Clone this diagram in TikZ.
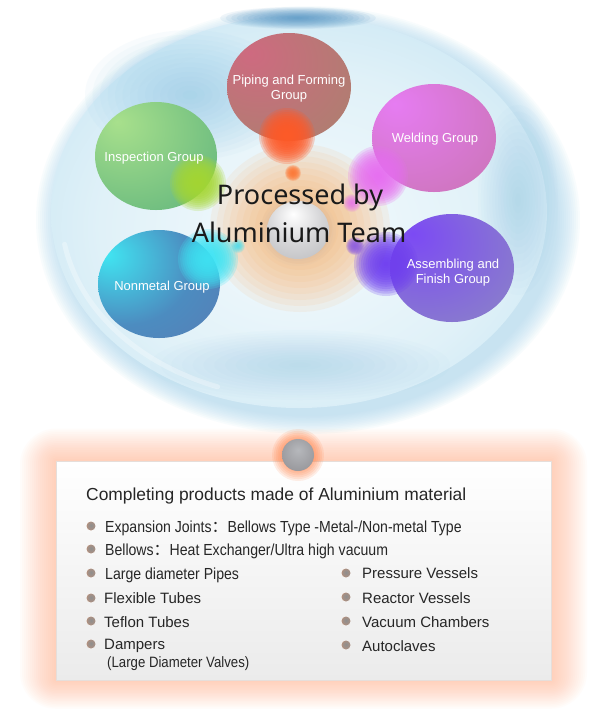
\documentclass[tikz,border=0pt]{standalone}
\usepackage{fontspec}
\setmainfont{Liberation Sans}
\newfontfamily\titlefont{Noto Sans}
\newfontfamily\narrowfont[FakeStretch=0.88]{Liberation Sans}
\newfontfamily\cjk{Noto Sans CJK SC}

\definecolor{ellA}{HTML}{F4FAFD}
\definecolor{ellB}{HTML}{E0F1F8}
\definecolor{ellC}{HTML}{C2E3F2}
\definecolor{ellD}{HTML}{A6D6EC}
\definecolor{ellE}{HTML}{B8DFF1}
\definecolor{ellglow}{HTML}{A8D6EE}
\definecolor{patch}{HTML}{86C4E4}
\definecolor{topshadow}{HTML}{3F86BC}
\definecolor{orglow}{HTML}{FBB470}
\definecolor{pipA}{HTML}{CE6A80}
\definecolor{pipB}{HTML}{B27C72}
\definecolor{pipC}{HTML}{9C8C56}
\definecolor{welA}{HTML}{E67CF2}
\definecolor{welB}{HTML}{D076C2}
\definecolor{welC}{HTML}{B86A88}
\definecolor{insA}{HTML}{A8E08C}
\definecolor{insB}{HTML}{70BE80}
\definecolor{insC}{HTML}{4AA65E}
\definecolor{nonA}{HTML}{40E6F2}
\definecolor{nonB}{HTML}{4C8CC0}
\definecolor{nonC}{HTML}{6A66A4}
\definecolor{assA}{HTML}{7C4AF4}
\definecolor{assB}{HTML}{8878D0}
\definecolor{assC}{HTML}{7A94C2}
\definecolor{bOrange}{HTML}{FF5A28}
\definecolor{bOrange2}{HTML}{FF7A38}
\definecolor{bGreen}{HTML}{A6D832}
\definecolor{bPink}{HTML}{E66EF0}
\definecolor{bCyan}{HTML}{3EE4F4}
\definecolor{bPurple}{HTML}{7040F0}
\definecolor{bPurple2}{HTML}{9060E0}
\definecolor{silA}{HTML}{FFFFFF}
\definecolor{silB}{HTML}{D4D4D6}
\definecolor{silC}{HTML}{B0B0B3}
\definecolor{boxglow}{HTML}{FF9A66}
\definecolor{boxbot}{HTML}{EBEBEB}
\definecolor{boxline}{HTML}{E6DEDA}
\definecolor{grA}{HTML}{B6B8BC}
\definecolor{grB}{HTML}{9A9A9E}
\definecolor{grC}{HTML}{B07E6C}
\definecolor{grD}{HTML}{E8773E}
\definecolor{dotglow}{HTML}{FF7A3A}
\definecolor{bulA}{HTML}{8E8E8E}
\definecolor{bulB}{HTML}{A89084}
\definecolor{bulC}{HTML}{F0945A}
\definecolor{bulD}{HTML}{F6B090}
\definecolor{ink}{HTML}{1A1A1A}
\definecolor{txt}{HTML}{262626}

% colour shadings
\pgfdeclareradialshading{bigell}{\pgfpoint{0bp}{-3bp}}{color(0bp)=(ellA); color(20bp)=(ellB); color(36bp)=(ellC); color(47bp)=(ellD); color(50bp)=(ellE); color(60bp)=(ellE)}
\newcommand\mkball[4]{\pgfdeclareradialshading{#1}{\pgfpoint{-16bp}{16bp}}{color(0bp)=(#2); color(36bp)=(#3); color(80bp)=(#4)}}
\mkball{pipshade}{pipA}{pipB}{pipC}
\mkball{welshade}{welA}{welB}{welC}
\mkball{insshade}{insA}{insB}{insC}
\pgfdeclareradialshading{nonshade}{\pgfpoint{-22bp}{14bp}}{color(0bp)=(nonA); color(28bp)=(nonB); color(80bp)=(nonC)}
\mkball{assshade}{assA}{assB}{assC}
\pgfdeclareradialshading{silver}{\pgfpoint{-4bp}{14bp}}{color(0bp)=(silA); color(22bp)=(silB); color(50bp)=(silC); color(70bp)=(silC)}
\pgfdeclareradialshading{grayball}{\pgfpoint{0bp}{8bp}}{color(0bp)=(grA); color(28bp)=(grB); color(44bp)=(grC); color(50bp)=(grD); color(60bp)=(grD)}
\pgfdeclareradialshading{bulshade}{\pgfpoint{0bp}{4bp}}{color(0bp)=(bulA); color(22bp)=(bulB); color(40bp)=(bulC); color(50bp)=(bulD); color(56bp)=(bulD)}

% soft blob made of stacked translucent ellipses: colour, opacity, centre, rx, ry
\newcommand\softblob[5]{%
  \foreach \k in {1,...,14}{%
    \fill[#1, opacity=#2] #3 ellipse [x radius={#4*\k/14*1pt}, y radius={#5*\k/14*1pt}];}}

\tikzset{
  grouplabel/.style={text=white, align=center, font=\fontsize{13}{15}\selectfont, inner sep=0pt},
  bigtitle/.style={text=ink, font=\titlefont\fontsize{27}{30}\selectfont, inner sep=0pt, anchor=base},
  bulletdot/.style={circle, shade, shading=bulshade, minimum size=9pt, inner sep=0pt},
  itemn/.style={text=txt, font=\fontsize{15}{17}\selectfont, inner sep=0pt, anchor=base west},
  itemc/.style={text=txt, font=\narrowfont\fontsize{16}{18}\selectfont, inner sep=0pt, anchor=base west},
}

\begin{document}
\begin{tikzpicture}[x=1pt,y=-1pt]
\useasboundingbox (0,0) rectangle (607,724);
\fill[white] (0,0) rectangle (607,724);

% ---------- big ellipse ----------
\foreach \k in {0,...,11}{%
  \fill[ellglow, opacity=0.07] (308,220) ellipse [x radius={(272-2*\k)*1pt}, y radius={(214-1.6*\k)*1pt}];}
\shade[shading=bigell] (299,212) ellipse [x radius=248pt, y radius=196pt];
\softblob{patch}{0.05}{(190,95)}{105}{65}
\softblob{patch}{0.035}{(518,200)}{40}{95}
\softblob{patch}{0.03}{(300,365)}{150}{35}
\draw[white, line width=5pt, opacity=.3, line cap=round]
  plot[domain=190:250, samples=40] ({299+238*cos(\x)}, {212-186*sin(\x)});
\softblob{topshadow}{0.08}{(298,18)}{78}{11}

% central orange glow
\softblob{orglow}{0.11}{(300,228)}{90}{84}

% ---------- group circles ----------
\shade[shading=pipshade] (289,87) ellipse [x radius=62pt, y radius=54pt];
\shade[shading=welshade] (434,138) ellipse [x radius=62pt, y radius=54pt];
\shade[shading=insshade] (156,156) ellipse [x radius=61pt, y radius=54pt];
\shade[shading=nonshade] (159,284) ellipse [x radius=61pt, y radius=54pt];
\shade[shading=assshade] (452,268) ellipse [x radius=62pt, y radius=54pt];

% ---------- blobs ----------
\softblob{bOrange}{0.25}{(287,136)}{28}{28}
\softblob{bOrange2}{0.22}{(293,173)}{8}{8}
\softblob{bGreen}{0.22}{(198,183)}{28}{28}
\softblob{bPink}{0.22}{(378,176)}{30}{30}
\softblob{bPink}{0.12}{(352,203)}{9}{9}
\softblob{bCyan}{0.22}{(208,259)}{30}{30}
\softblob{bCyan}{0.12}{(238,246)}{7}{7}
\softblob{bPurple}{0.22}{(386,264)}{32}{32}
\softblob{bPurple2}{0.22}{(355,246)}{9}{9}

% ---------- silver sphere ----------
\softblob{silC}{0.06}{(298,231)}{38}{35}
\shade[shading=silver] (298,230) ellipse [x radius=31pt, y radius=29pt];

% ---------- texts ----------
\node[bigtitle] (t1) at (300,204) {Processed by};
\node[bigtitle] (t2) at (299,242) {Aluminium Team};

\node[grouplabel] (lPip) at (289,89) {Piping and Forming\\Group};
\node[grouplabel] (lWel) at (435,139) {Welding Group};
\node[grouplabel] (lIns) at (154,158) {Inspection Group};
\node[grouplabel] (lNon) at (162,287) {Nonmetal Group};
\node[grouplabel] (lAss) at (453,273) {Assembling and\\Finish Group};

% ---------- bottom box ----------
\foreach \d in {36,34,...,2} {
  \fill[boxglow, opacity=0.026, rounded corners=\d pt] ({56-\d},{461-0.9*\d}) rectangle ({551+\d},{680+0.8*\d});
}
\shade[top color=white, bottom color=boxbot] (56,461) rectangle (551,680);
\draw[boxline, line width=.7pt] (56,461) rectangle (551,680);

\softblob{dotglow}{0.12}{(298,455)}{26}{26}
\shade[shading=grayball] (298,455) circle [radius=16pt];

\node[anchor=base west, text=txt, font=\fontsize{17.4}{20}\selectfont, inner sep=0pt] (bt) at (86,500) {Completing products made of Aluminium material};

\node[bulletdot] (b1) at (91,526) {};
\node[bulletdot] (b2) at (91,549) {};
\node[bulletdot] (b3) at (91,573) {};
\node[bulletdot] (b4) at (91,598) {};
\node[bulletdot] (b5) at (91,621) {};
\node[bulletdot] (b6) at (91,644) {};
\node[bulletdot] (b7) at (346,573) {};
\node[bulletdot] (b8) at (346,597) {};
\node[bulletdot] (b9) at (346,621) {};
\node[bulletdot] (b10) at (346,645) {};

\node[itemc] (i1) at (105,532) {Expansion Joints{\cjk ：}Bellows Type -Metal-/Non-metal Type};
\node[itemc] (i2) at (105,555) {Bellows{\cjk ：}Heat Exchanger/Ultra high vacuum};
\node[itemc] (i3) at (105,579) {Large diameter Pipes};
\node[itemn] (i4) at (104,603) {Flexible Tubes};
\node[itemn] (i5) at (104,627) {Teflon Tubes};
\node[itemn] (i6) at (104,649) {Dampers};
\node[itemc, font=\narrowfont\fontsize{15}{17}\selectfont] (i6b) at (107,667) {(Large Diameter Valves)};
\node[itemn] (i7) at (362,578) {Pressure Vessels};
\node[itemn] (i8) at (362,603) {Reactor Vessels};
\node[itemn] (i9) at (362,627) {Vacuum Chambers};
\node[itemn] (i10) at (362,651) {Autoclaves};
\end{tikzpicture}
\end{document}
